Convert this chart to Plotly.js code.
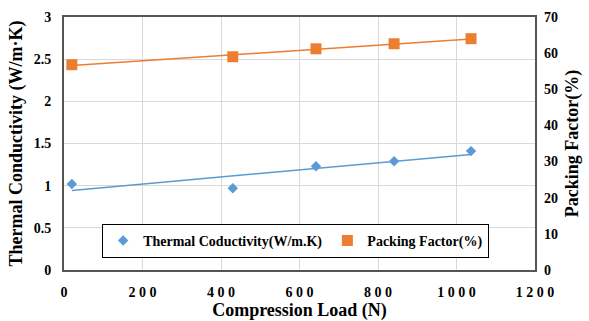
<!DOCTYPE html>
<html><head><meta charset="utf-8">
<script src="https://cdn.plot.ly/plotly-3.0.1.min.js"></script>
<style>body{margin:0;padding:0;background:#fff}#c{width:589px;height:321px}</style>
</head><body><div id="c"></div>
<script>
var loads = [20, 430, 642, 841, 1037];
var conductivity = [1.02, 0.97, 1.23, 1.29, 1.41];
var packing = [56.8, 59.0, 61.2, 62.6, 64.0];
var xTickVals = [0, 200, 400, 600, 800, 1000, 1200];
var xTickText = ['0', '2 0 0', '4 0 0', '6 0 0', '8 0 0', '1 0 0 0', '1 2 0 0'];

function fit(xs, ys) {
  var n = xs.length, mx = 0, my = 0;
  for (var i = 0; i < n; i++) { mx += xs[i]; my += ys[i]; }
  mx /= n; my /= n;
  var sxy = 0, sxx = 0;
  for (var i = 0; i < n; i++) { sxy += (xs[i]-mx)*(ys[i]-my); sxx += (xs[i]-mx)*(xs[i]-mx); }
  var b = sxy / sxx, a = my - b*mx;
  var x0 = xs[0], x1 = xs[n-1];
  return {x: [x0, x1], y: [a + b*x0, a + b*x1]};
}
var fc = fit(loads, conductivity), fp = fit(loads, packing);
var blue = '#5b9bd5', orange = '#ed7d31';
var fam = '"Liberation Serif", "Times New Roman", serif';
var tickf = {size: 14, family: fam, weight: 'bold', color: '#000'};

var data = [
  {x: fc.x, y: fc.y, mode: 'lines', line: {color: blue, width: 1.5}, showlegend: false, hoverinfo: 'skip'},
  {x: fp.x, y: fp.y, mode: 'lines', line: {color: orange, width: 1.5}, showlegend: false, hoverinfo: 'skip', yaxis: 'y2'},
  {x: loads, y: conductivity, mode: 'markers', name: '<b>Thermal Coductivity(W/m.K)</b>',
   marker: {symbol: 'diamond', size: 8, color: blue}},
  {x: loads, y: packing, mode: 'markers', name: '<b>Packing Factor(%)</b>', yaxis: 'y2',
   marker: {symbol: 'square', size: 11, color: orange}}
];

var layout = {
  width: 589, height: 321,
  margin: {l: 64, r: 54, t: 17, b: 51},
  paper_bgcolor: '#fff', plot_bgcolor: '#fff',
  font: {family: fam, color: '#000'},
  xaxis: {range: [0, 1200], tickvals: xTickVals, ticktext: xTickText,
    showgrid: true, gridcolor: '#d9d9d9', zeroline: false,
    showline: true, mirror: true, linecolor: '#555555', linewidth: 2,
    ticks: '', tickfont: tickf, ticklabelstandoff: 8,
    title: {text: '<b>Compression Load (N)</b>', font: {size: 18, family: fam}, standoff: 2}},
  yaxis: {range: [0, 3], dtick: 0.5, showgrid: true, gridcolor: '#d9d9d9', zeroline: false,
    showline: true, mirror: true, linecolor: '#555555', linewidth: 2,
    ticks: '', tickfont: tickf, ticklabelstandoff: 8,
    title: {text: '<b>Thermal Conductivity (W/m·K)</b>', font: {size: 18, family: fam}, standoff: 6}},
  yaxis2: {range: [0, 70], dtick: 10, overlaying: 'y', side: 'right', showgrid: false, zeroline: false,
    ticks: '', tickfont: tickf, ticklabelstandoff: 8,
    title: {text: '<b>Packing Factor(%)</b>', font: {size: 18, family: fam}, standoff: 8}},
  legend: {orientation: 'h', x: 0.081, y: 0.182, xanchor: 'left', yanchor: 'top',
    bordercolor: '#000', borderwidth: 1, bgcolor: '#fff',
    font: {size: 14, family: fam}},
  showlegend: true
};
Plotly.newPlot('c', data, layout, {displayModeBar: false, staticPlot: true});
</script></body></html>
